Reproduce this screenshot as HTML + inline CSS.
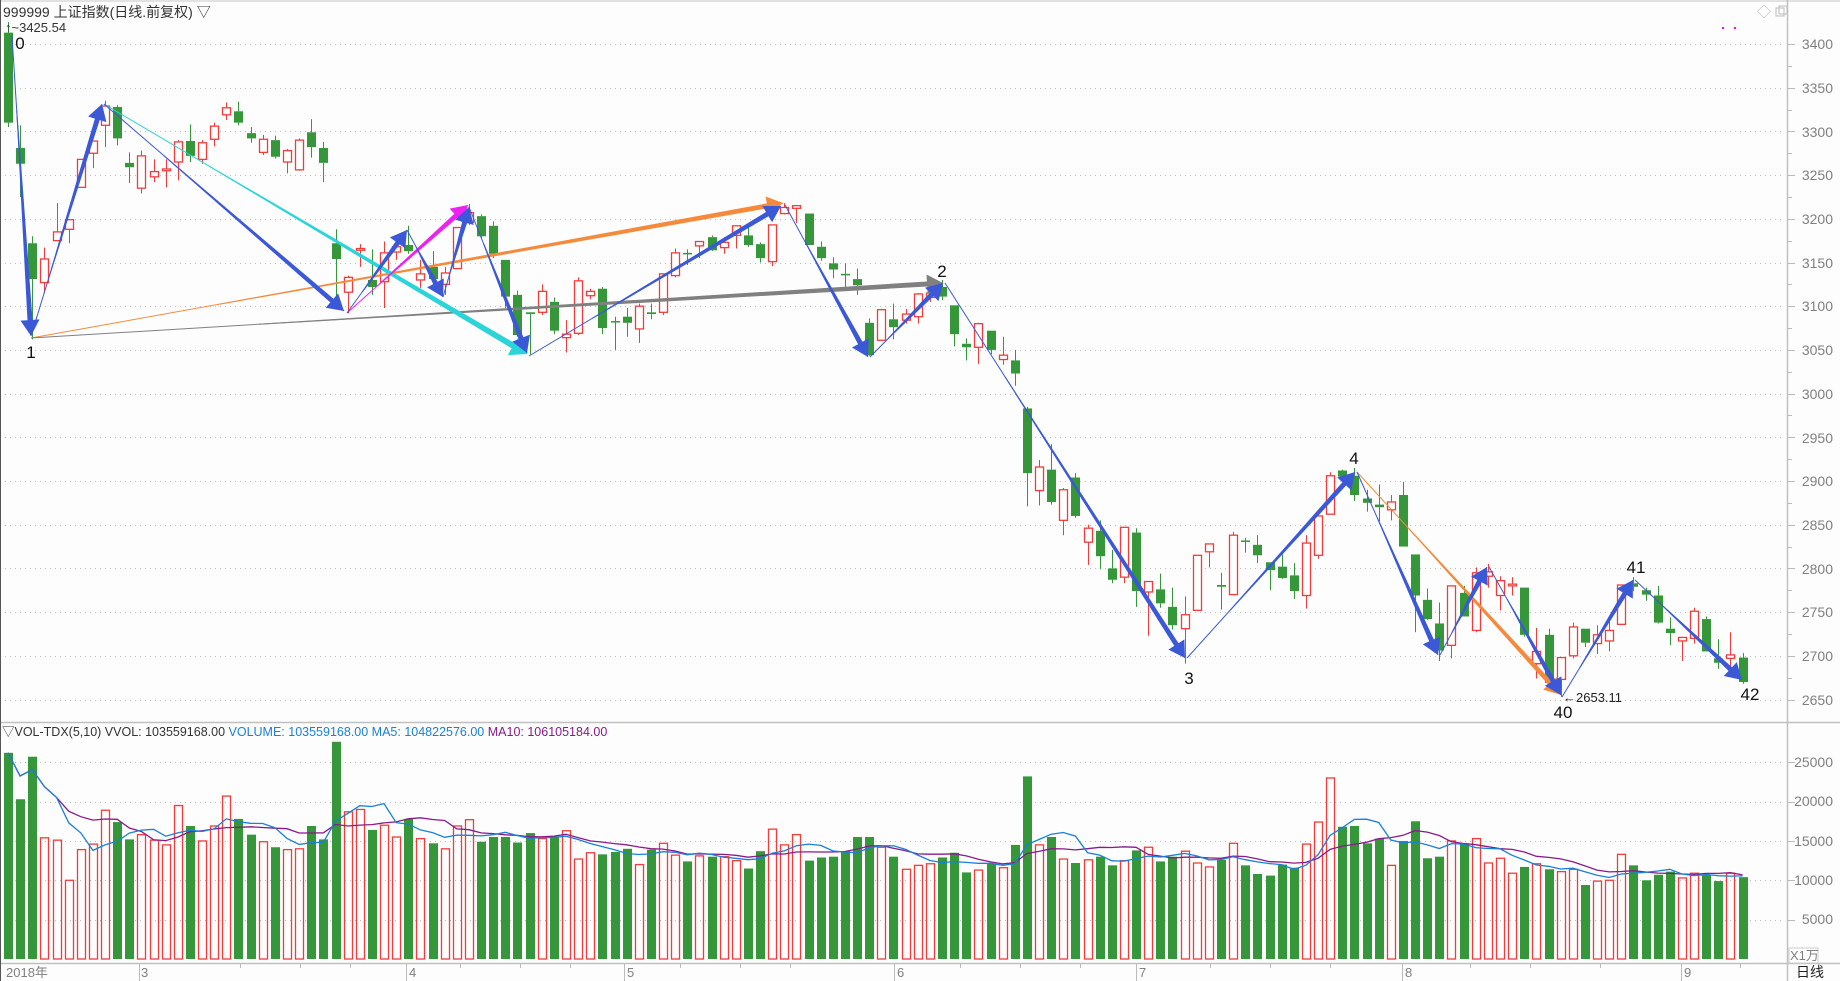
<!DOCTYPE html>
<html><head><meta charset="utf-8"><style>
html,body{margin:0;padding:0;background:#fff;}
svg{display:block;}
text{font-family:"Liberation Sans","Noto Sans CJK SC",sans-serif;}
.ax{font-size:14px;fill:#808080;}
.lb{font-family:"Liberation Serif",serif;font-size:17px;fill:#111;}
</style></head><body>
<svg id="s" width="1840" height="981" viewBox="0 0 1840 981" xmlns="http://www.w3.org/2000/svg">
<rect width="1840" height="981" fill="#fdfdfd"/>
<g id="grid"></g>
<g id="vol"></g>
<g id="cand"></g>
<g id="lines"></g>
<!-- frames -->
<line x1="0" y1="1" x2="1840" y2="1" stroke="#c8c8c8"/>
<line x1="1787.5" y1="0" x2="1787.5" y2="981" stroke="#c0c0c0" stroke-width="1.5"/>
<line x1="0" y1="722.5" x2="1840" y2="722.5" stroke="#c0c0c0" stroke-width="1.5"/>
<line x1="0" y1="963.5" x2="1840" y2="963.5" stroke="#c0c0c0" stroke-width="1.5"/>
<line x1="0.5" y1="0" x2="0.5" y2="981" stroke="#555"/>
<!-- header -->
<text x="3" y="17" style="font-size:14px;fill:#333">999999 上证指数(日线.前复权) ▽</text>
<text x="5" y="32" style="font-size:13px;fill:#333">↑~3425.54</text>
<text x="1757" y="17" style="font-size:14px;fill:#bbb">◇</text>
<rect x="1776" y="8" width="8" height="8" fill="none" stroke="#bbb"/>
<rect x="1779" y="6" width="8" height="8" fill="none" stroke="#bbb"/>
<rect x="1722" y="27" width="2" height="2" fill="#f0f"/>
<rect x="1734" y="27" width="2" height="2" fill="#f0f"/>
<!-- price axis -->
<g class="ax" text-anchor="end">
<text x="1833" y="49">3400</text><text x="1833" y="93">3350</text><text x="1833" y="137">3300</text><text x="1833" y="180">3250</text>
<text x="1833" y="224">3200</text><text x="1833" y="268">3150</text><text x="1833" y="311">3100</text><text x="1833" y="355">3050</text>
<text x="1833" y="399">3000</text><text x="1833" y="443">2950</text><text x="1833" y="486">2900</text><text x="1833" y="530">2850</text>
<text x="1833" y="574">2800</text><text x="1833" y="617">2750</text><text x="1833" y="661">2700</text><text x="1833" y="705">2650</text>
<text x="1833" y="767">25000</text><text x="1833" y="806">20000</text><text x="1833" y="846">15000</text><text x="1833" y="885">10000</text><text x="1833" y="924">5000</text>
</g>
<rect x="1789" y="948" width="29" height="15" fill="#fff" stroke="#ccc"/>
<text x="1790" y="960" class="ax" style="font-size:13px">X1万</text>
<text x="1796" y="977" style="font-size:14px;fill:#222">日线</text>
<!-- vol header -->
<text x="2" y="736" style="font-size:12.5px;fill:#333">▽VOL-TDX(5,10) VVOL: 103559168.00 <tspan fill="#1a80d8">VOLUME: 103559168.00 MA5: 104822576.00</tspan> <tspan fill="#8a1a8a">MA10: 106105184.00</tspan></text>
<!-- date axis -->
<g class="ax" style="font-size:13px">
<text x="6" y="977">2018年</text><text x="141" y="977">3</text><text x="409" y="977">4</text><text x="627" y="977">5</text>
<text x="897" y="977">6</text><text x="1139" y="977">7</text><text x="1405" y="977">8</text><text x="1684" y="977">9</text>
</g>
<g id="dt" stroke="#bbb"></g>
<!-- labels -->
<g class="lb" text-anchor="middle">
<text x="20" y="49">0</text><text x="31" y="358">1</text><text x="942" y="277">2</text><text x="1189" y="684">3</text>
<text x="1354" y="464">4</text><text x="1563" y="718">40</text><text x="1636" y="573">41</text><text x="1750" y="700">42</text>
</g>
<text x="1563" y="702" style="font-size:13px;fill:#222">←2653.11</text>
</svg>
<script>
var NS="http://www.w3.org/2000/svg";
function el(p,t,a){var e=document.createElementNS(NS,t);for(var k in a)e.setAttribute(k,a[k]);p.appendChild(e);return e;}
var C=[[3413,3310,3425,3305],[3281,3263,3307,3225],[3172,3131,3180,3062],[3127,3154,3167,3115],[3175,3185,3218,3175],[3188,3199,3199,3172],[3236,3268,3268,3236],[3275,3289,3289,3258],[3307,3329,3335,3282],[3328,3292,3330,3284],
[3264,3259,3276,3241],[3235,3272,3278,3229],[3248,3254,3268,3242],[3255,3257,3268,3236],[3265,3288,3290,3244],[3289,3272,3308,3265],[3268,3287,3290,3263],[3291,3306,3310,3283],[3319,3327,3333,3313],[3323,3310,3334,3307],
[3298,3292,3305,3287],[3276,3291,3296,3273],[3290,3271,3295,3269],[3265,3278,3280,3252],[3256,3290,3292,3255],[3299,3282,3314,3270],[3281,3264,3288,3242],[3172,3154,3188,3110],[3116,3133,3135,3092],[3164,3166,3171,3145],
[3130,3122,3165,3113],[3128,3161,3174,3098],[3162,3168,3174,3153],[3170,3163,3192,3160],[3130,3137,3153,3121],[3145,3131,3163,3119],[3125,3138,3145,3113],[3143,3190,3190,3143],[3196,3207,3217,3193],[3203,3180,3205,3178],
[3192,3160,3197,3155],[3153,3111,3153,3098],[3113,3067,3118,3065],[3093,3091,3093,3045],[3093,3117,3125,3090],[3105,3072,3110,3068],[3064,3068,3084,3047],[3069,3129,3133,3067],[3112,3117,3120,3108],[3120,3075,3122,3068],
[3083,3082,3088,3050],[3088,3081,3098,3065],[3074,3100,3103,3058],[3093,3091,3103,3085],[3093,3137,3137,3090],[3135,3161,3166,3133],[3161,3160,3165,3147],[3169,3174,3174,3155],[3179,3164,3181,3163],[3167,3173,3179,3160],
[3181,3192,3192,3166],[3181,3170,3191,3168],[3171,3155,3173,3150],[3151,3193,3193,3146],[3206,3213,3218,3205],[3212,3215,3215,3195],[3206,3170,3206,3170],[3168,3155,3174,3152],[3149,3142,3156,3132],[3137,3136,3149,3118],
[3131,3124,3143,3113],[3081,3044,3086,3043],[3061,3096,3097,3060],[3085,3076,3103,3062],[3084,3091,3097,3080],[3088,3114,3115,3080],[3110,3115,3115,3105],[3122,3111,3130,3107],[3101,3068,3101,3054],[3057,3053,3063,3038],
[3053,3080,3081,3034],[3072,3050,3072,3045],[3039,3044,3065,3033],[3038,3023,3050,3009],[2983,2909,2985,2871],[2889,2916,2924,2872],[2913,2876,2942,2873],[2855,2890,2892,2838],[2904,2860,2909,2858],[2830,2846,2850,2804],
[2843,2814,2855,2799],[2800,2787,2821,2783],[2790,2847,2847,2783],[2841,2774,2846,2756],[2773,2785,2785,2723],[2776,2760,2794,2755],[2756,2735,2778,2730],[2731,2747,2768,2691],[2752,2815,2815,2752],[2819,2828,2828,2801],
[2781,2779,2795,2753],[2770,2838,2842,2770],[2832,2831,2835,2818],[2827,2815,2838,2806],[2807,2798,2807,2775],[2802,2789,2816,2788],[2792,2774,2806,2765],[2769,2829,2838,2754],[2815,2860,2860,2811],[2862,2906,2910,2862],
[2912,2905,2913,2902],[2906,2884,2915,2877],[2880,2875,2890,2865],[2873,2870,2896,2854],[2867,2876,2884,2855],[2884,2825,2899,2825],[2816,2769,2816,2727],[2764,2742,2777,2741],[2737,2706,2761,2694],[2712,2780,2780,2697],
[2772,2745,2780,2745],[2729,2795,2801,2727],[2791,2796,2805,2778],[2769,2786,2791,2752],[2780,2782,2790,2769],[2778,2724,2778,2722],[2691,2705,2732,2674],[2724,2669,2731,2669],[2673,2698,2698,2653],[2700,2733,2738,2697],
[2731,2715,2731,2710],[2714,2724,2735,2702],[2717,2729,2741,2705],[2736,2781,2781,2736],[2783,2779,2790,2774],[2775,2770,2778,2763],[2769,2738,2780,2737],[2731,2726,2744,2712],[2717,2721,2721,2694],[2720,2751,2755,2714],
[2742,2705,2745,2705],[2697,2692,2719,2685],[2697,2701,2727,2685],[2698,2670,2703,2668]];
var V=[26.2,20.3,25.7,15.4,15.1,10.0,13.9,14.6,18.9,17.4,15.2,15.8,15.1,14.5,19.5,16.9,15.0,16.9,20.7,17.8,15.8,14.9,14.2,13.9,14.0,16.9,15.2,27.6,18.7,19.0,16.4,17.0,15.5,17.8,15.3,14.7,14.0,16.9,17.7,14.9,15.5,15.5,14.8,16.0,15.3,15.6,
16.3,12.7,13.5,13.3,13.6,14.0,12.0,13.9,14.7,13.2,12.4,13.1,13.0,13.0,12.5,11.5,13.7,16.5,14.5,15.8,12.5,12.9,13.0,13.7,15.5,
15.5,14.2,13.0,11.4,11.9,12.1,12.9,13.5,11.0,11.3,12.1,11.6,14.5,23.2,14.5,15.5,12.7,12.2,12.6,13.0,11.9,12.5,13.8,14.2,12.4,13.0,13.7,12.2,11.7,12.6,14.7,11.9,10.8,10.6,12.0,11.6,14.6,17.4,23.0,16.8,16.9,14.7,15.3,11.9,15.0,17.5,12.8,13.0,15.0,14.7,15.3,12.2,12.8,10.9,11.7,12.1,11.4,11.1,
11.4,9.4,9.9,10.0,13.3,11.9,10.0,10.7,11.1,10.3,10.9,10.7,9.9,10.9,10.4];
function Y(p){return 44+(3400-p)*0.874;}
function VY(v){return 959-v*7.87;}
function X(i){return 8+12.13*i;}
var RED="#f23c3c",GRN="#35963a";
var g=document.getElementById("grid");
for(var p=2650;p<=3400;p+=50){var y=Math.round(Y(p))+0.5;el(g,"line",{x1:0,y1:y,x2:1785,y2:y,stroke:"#bdbdbd","stroke-dasharray":"1,4"});el(g,"line",{x1:1787,y1:y,x2:1795,y2:y,stroke:"#bbb"});
 var y2=Math.round(Y(p+25))+0.5;if(p<3400)el(g,"line",{x1:1787,y1:y2,x2:1792,y2:y2,stroke:"#bbb"});}
for(var v=5;v<=25;v+=5){var y=Math.round(VY(v))+0.5;el(g,"line",{x1:0,y1:y,x2:1785,y2:y,stroke:"#bdbdbd","stroke-dasharray":"1,4"});el(g,"line",{x1:1787,y1:y,x2:1795,y2:y,stroke:"#bbb"});}
var dt=document.getElementById("dt");
[139,406,624,894,1136,1402,1681].forEach(function(x){el(dt,"line",{x1:x+.5,y1:964,x2:x+.5,y2:981});});
[240,300,350,460,520,570,680,740,790,960,1020,1080,1210,1270,1330,1470,1530,1600,1740].forEach(function(x){el(dt,"line",{x1:x+.5,y1:964,x2:x+.5,y2:968});});
var cg=document.getElementById("cand"),vg=document.getElementById("vol");
for(var i=0;i<C.length;i++){var c=C[i],x=X(i),up=c[1]>=c[0],col=up?RED:GRN;
 var t=Y(Math.max(c[0],c[1])),b=Y(Math.min(c[0],c[1]));if(b-t<1.5){b=t+1.5;}
 var xc=Math.round(x)+0.5;
 el(cg,"line",{x1:xc,y1:Y(c[2]),x2:xc,y2:t,stroke:col,"stroke-width":1});
 el(cg,"line",{x1:xc,y1:b,x2:xc,y2:Y(c[3]),stroke:col,"stroke-width":1});
 if(up)el(cg,"rect",{x:xc-4,y:t,width:8,height:b-t,fill:"#fff",stroke:col,"stroke-width":1.3});
 else el(cg,"rect",{x:xc-4.5,y:t,width:9,height:b-t,fill:col});
 var vt=VY(V[i]);
 if(up)el(vg,"rect",{x:xc-4,y:vt,width:8,height:959-vt,fill:"none",stroke:col,"stroke-width":1.3});
 else el(vg,"rect",{x:xc-4.5,y:vt,width:9,height:959-vt,fill:col});
}
function ma(n,color){var pts=[];for(var i=0;i<V.length;i++){var s=0,k=0;for(var j=Math.max(0,i-n+1);j<=i;j++){s+=V[j];k++;}pts.push(X(i).toFixed(1)+","+VY(s/k).toFixed(1));}
 el(vg,"polyline",{points:pts.join(" "),fill:"none",stroke:color,"stroke-width":1.3});}
ma(10,"#8a1a8a");ma(5,"#1a80d8");
var lg=document.getElementById("lines");
function arrow(x1,y1,x2,y2,col,w){var dx=x2-x1,dy=y2-y1,L=Math.sqrt(dx*dx+dy*dy),ux=dx/L,uy=dy/L,nx=-uy,ny=ux;
 var hl=Math.min(16,L*0.3),hw=w*1.3+3;
 var bx=x2-ux*hl,by=y2-uy*hl;
 el(lg,"line",{x1:x1,y1:y1,x2:x2,y2:y2,stroke:col,"stroke-width":1});
 var sx=x1+ux*L*0.25,sy=y1+uy*L*0.25;
 var P=[[sx+nx*0.5,sy+ny*0.5],[bx+nx*w/2,by+ny*w/2],[bx+nx*hw,by+ny*hw],[x2,y2],[bx-nx*hw,by-ny*hw],[bx-nx*w/2,by-ny*w/2],[sx-nx*0.5,sy-ny*0.5]];
 el(lg,"polygon",{points:P.map(function(q){return q[0].toFixed(1)+","+q[1].toFixed(1);}).join(" "),fill:col});}
var B="#3b58d6";
arrow(31,338,783,203,"#f58a3c",5);
arrow(31,338,943,283,"#808080",5);
arrow(104,104,527,354,"#2ad4d8",6);
arrow(12,36,31,336,B,5);
arrow(31,336,102,104,B,5);
arrow(104,104,344,311,B,5);
arrow(347,313,468,205,"#ee22ee",5);
arrow(347,313,407,230,B,5);
arrow(407,230,443,297,B,5);
arrow(443,297,469,207,B,5);
arrow(469,207,527,353,B,5);
arrow(529,356,781,206,B,5);
arrow(785,205,868,357,B,5);
arrow(870,357,943,283,B,5);
arrow(945,283,1185,658,B,5);
arrow(1187,658,1355,472,B,5);
arrow(1357,472,1561,695,"#f58a3c",5);
arrow(1357,472,1438,655,B,5);
arrow(1440,655,1487,567,B,5);
arrow(1489,567,1561,695,B,5);
arrow(1562,697,1633,580,B,5);
arrow(1635,580,1742,680,B,5);
</script>
</body></html>
